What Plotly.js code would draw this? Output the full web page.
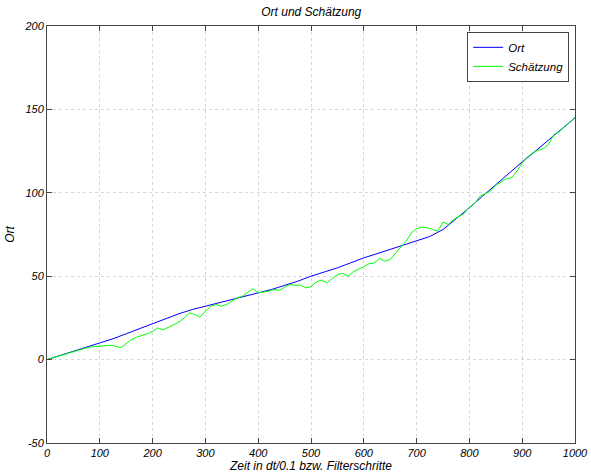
<!DOCTYPE html>
<html>
<head>
<meta charset="utf-8">
<script src="https://cdn.plot.ly/plotly-3.0.1.min.js"></script>
<style>html,body{margin:0;padding:0;background:#fff;}#chart{width:591px;height:473px;}</style>
</head>
<body>
<div id="chart"></div>
<script>
// Ort (true position), sampled every 25 steps
const ortT = [0,25,50,75,100,125,150,175,200,225,250,275,300,325,350,375,400,425,450,475,500,525,550,575,600,625,650,675,700,725,750,775,800,825,850,875,900,925,950,975,1000];
const ortV = [0,2.5,5,7.5,9.8,12.5,15.5,18.5,21.5,24.5,27.5,30,32,34,36,38,39.7,42,44.5,47,50,52.5,55,58,61,63.5,66,68.5,71,73.8,78,84.3,91,98,105,111.5,118.5,125,131.5,138,145];

// Schätzung (estimate), sampled every 10 steps
const estT = [0,10,20,30,40,50,60,70,80,90,100,110,120,130,140,150,160,170,180,190,200,210,220,230,240,250,260,270,280,290,300,310,320,330,340,350,360,370,380,390,400,410,420,430,440,450,460,470,480,490,500,510,520,530,540,550,560,570,580,590,600,610,620,630,640,650,660,670,680,690,700,710,720,730,740,750,760,770,780,790,800,810,820,830,840,850,860,870,880,890,900,910,920,930,940,950,960,970,980,990,1000];
const estV = [0,1,2,3,4,5,5.8,6.6,7.5,7.8,7.8,8.3,8.6,8.0,7.2,9.5,12,13.5,14.5,15.5,17,19,17.8,19.5,21,22.5,25,28,27,25.5,29,32,33,32,33,35,37,38,40,42.5,40,40.5,41,42,41.5,43.5,45,44.5,44.7,43,43.7,46.5,47.7,46,48.7,51,51.7,50,52.7,54,55.7,57.5,58,60.7,59,60,63.5,67.5,71,76,78.5,79.5,79,78,77,82.5,81,84,86,87.5,91.5,93.5,98,99.5,101,104.5,106.5,108.5,109,113,118,121.5,124,125.5,126.5,129,135,136.5,139.5,142,145.3];

const xTicks = [0,100,200,300,400,500,600,700,800,900,1000];
const yTicks = [-50,0,50,100,150,200];

const fontFam = '"Liberation Sans", Arial, sans-serif';
const tickFont = {family: fontFam, size: 11, color: '#000', style: 'italic'};
const titleFont = {family: fontFam, size: 12, color: '#000', style: 'italic'};

const traces = [
  {x: ortT, y: ortV, type: 'scatter', mode: 'lines', name: 'Ort',
   line: {color: '#0000ff', width: 1}},
  {x: estT, y: estV, type: 'scatter', mode: 'lines', name: 'Schätzung',
   line: {color: '#00ff00', width: 1}}
];

const axisCommon = {
  showline: true, linecolor: '#444', linewidth: 1, mirror: 'ticks',
  ticks: 'inside', ticklen: 5, tickcolor: '#444',
  showgrid: true, gridcolor: '#d6d6d6', griddash: 'dot', gridwidth: 1,
  zeroline: false, tickfont: tickFont
};

const layout = {
  width: 591, height: 473,
  margin: {l: 47, r: 16, t: 26, b: 30},
  paper_bgcolor: '#fff', plot_bgcolor: '#fff',
  title: {text: 'Ort und Schätzung', x: 0.5267, xanchor: 'center', y: 0.975, yanchor: 'middle',
          font: titleFont},
  xaxis: Object.assign({}, axisCommon, {
    range: [0, 1000], tickvals: xTicks, ticktext: xTicks.map(String),
    title: {text: 'Zeit in dt/0.1 bzw. Filterschritte', standoff: 1, font: titleFont}
  }),
  yaxis: Object.assign({}, axisCommon, {
    range: [-50, 200], tickvals: yTicks, ticktext: yTicks.map(String),
    title: {text: 'Ort', standoff: 7, font: titleFont}
  }),
  showlegend: true,
  legend: {x: 0.989, xanchor: 'right', y: 0.986, yanchor: 'top',
           bgcolor: '#fff', bordercolor: '#444', borderwidth: 1,
           font: {family: fontFam, size: 11.5, color: '#000', style: 'italic'},
           tracegroupgap: 0}
};

Plotly.newPlot('chart', traces, layout, {displayModeBar: false, staticPlot: true});
</script>
</body>
</html>
